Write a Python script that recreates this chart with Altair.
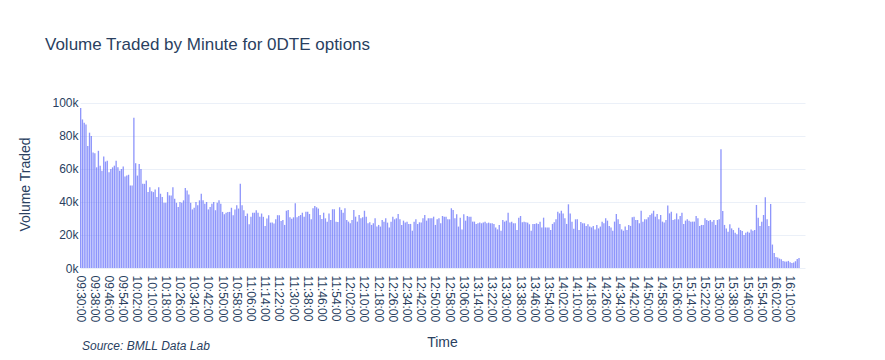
import altair as alt
import pandas as pd

# Volume traded per minute, in thousands
vol_0930_1019 = [
    97, 90, 88, 87, 74, 82, 80, 70, 69.5, 61,
    71, 62, 59, 67.5, 64.5, 65, 58, 60, 61, 62,
    65, 61, 59, 60, 61.5, 55.5, 56, 56.5, 50, 50,
    91, 63.5, 56, 63, 60, 51, 51, 53, 46, 49,
    46.5, 46, 47.5, 43, 49, 45, 43, 39.5, 39.5, 46,
]
vol_1020_1059 = [
    44, 44, 49, 42, 39.5, 37, 40, 39.5, 41, 48.5,
    47, 44.5, 39.5, 35.5, 36.5, 40, 38, 41, 45, 41,
    39, 40, 35.5, 37, 39, 40, 35, 39.5, 41, 39,
    34, 32.5, 33.5, 34, 34, 36.5, 32, 35.5, 38, 36,
]
vol_1100_1123 = [
    51, 38, 35, 31.5, 33, 26.5, 31, 33.5, 33.5, 35, 33.5, 31,
    33, 31, 25.5, 30, 32, 27.5, 27.5, 27, 29.5, 32, 32, 28.5,
]
vol_1124_1220 = [
    29.1, 26.1, 34.7, 35.2, 30.7, 29.9, 30.7, 39.2, 30.7, 31.5,
    32.1, 33.5, 31.1, 34.1, 34.1, 32.7, 29.5, 36.2, 37.6, 36.8,
    36.0, 32.1, 29.7, 33.5, 30.1, 28.1, 33.1, 29.1, 35.6, 35.6,
    28.1, 27.9, 36.8, 35.2, 33.5, 36.2, 29.1, 28.1, 27.1, 29.1,
    35.2, 31.1, 28.1, 32.1, 30.1, 30.7, 34.7, 31.1, 27.1, 27.7,
    26.1, 27.1, 30.1, 25.1, 26.1, 25.1, 29.1,
]
vol_1221_1318 = [
    28.1, 30.1, 27.5, 24.6, 28.1, 31.1, 29.5, 30.1, 32.7, 29.5,
    26.1, 28.7, 27.5, 28.1, 26.7, 26.7, 22.6, 28.1, 29.5, 26.7,
    27.7, 27.5, 30.1, 32.1, 28.7, 30.1, 30.1, 30.1, 31.1, 26.1,
    29.5, 30.1, 27.1, 31.5, 31.1, 31.1, 29.5, 29.5, 36.2, 35.2,
    30.1, 32.5, 25.1, 30.5, 23.4, 32.5, 28.7, 31.5, 31.1, 31.1,
    28.1, 28.1, 26.7, 27.1, 27.5, 27.1, 27.5, 28.1,
]
vol_1319_1416 = [
    27.1, 27.5, 27.1, 27.1, 26.7, 24.6, 23.4, 26.1, 22.6, 29.1,
    28.1, 28.7, 33.5, 27.5, 28.1, 27.1, 27.1, 23.0, 30.5, 31.5,
    27.7, 28.1, 27.7, 27.5, 26.5, 22.6, 26.7, 26.7, 27.1, 26.7,
    28.1, 24.6, 30.5, 24.6, 24.6, 24.6, 23.0, 26.7, 27.7, 29.5,
    34.1, 33.1, 34.7, 33.1, 30.1, 26.7, 38.6, 33.1, 28.1, 23.8,
    29.5, 29.5, 23.0, 27.9, 27.1, 27.1, 25.5, 26.5,
]
vol_1417_1514 = [
    25.1, 24.6, 25.5, 23.4, 26.1, 24.0, 25.1, 28.1, 27.1, 30.1,
    28.7, 25.5, 24.6, 22.6, 28.1, 32.7, 29.5, 26.7, 23.4, 22.6,
    25.1, 23.0, 26.1, 25.5, 30.7, 31.1, 29.1, 29.1, 27.1, 34.7,
    28.1, 29.5, 29.5, 30.7, 32.1, 33.1, 34.7, 31.1, 32.7, 29.5,
    32.1, 28.1, 27.5, 29.1, 37.8, 33.1, 34.1, 29.1, 29.5, 33.1,
    29.5, 31.5, 33.5, 26.7, 28.7, 29.5, 28.7, 28.1,
]
vol_1515_1530 = [
    28.1, 28.1, 31.5, 30.1, 25.5, 26.1, 26.1, 30.1,
    29.1, 28.5, 29.1, 28.1, 29.1, 26.1, 29.1, 29.5,
]
vol_1531_1559 = [
    72, 34.5, 26.1, 24.0, 22.0, 26.5, 24.0, 23.0, 21.4, 20.4,
    24.4, 23.0, 22.4, 20.0, 21.4, 22.0, 21.4, 23.4, 22.6, 23.0,
    38.2, 30.5, 25.5, 28.1, 32.1, 42.8, 29.5, 25.5, 38.8,
]
vol_1600_1615 = [
    14.2, 9.1, 6.7, 6.3, 5.7, 5.3, 4.3, 3.9,
    3.9, 4.3, 3.5, 3.0, 3.3, 4.1, 5.5, 6.1,
]

volume_k = (vol_0930_1019 + vol_1020_1059 + vol_1100_1123 + vol_1124_1220
            + vol_1221_1318 + vol_1319_1416 + vol_1417_1514 + vol_1515_1530
            + vol_1531_1559 + vol_1600_1615)

# category axis: one slot per minute from 09:30:00
all_minutes = [f"{(570 + i) // 60:02d}:{(570 + i) % 60:02d}:00" for i in range(409)]
tick_labels = all_minutes[0:401:8]
y_ticks = [0, 20000, 40000, 60000, 80000, 100000]

df = pd.DataFrame({
    "Time": all_minutes[:len(volume_k)],
    "Volume": [v * 1000 for v in volume_k],
})

FONT = "Liberation Sans"
TEXT = "#2a3f5f"
GRID = "#ebf0f8"

bars = alt.Chart(df).mark_bar(color="#636efa", opacity=0.72).encode(
    x=alt.X(
        "Time:O",
        sort=None,
        scale=alt.Scale(domain=all_minutes, paddingInner=0.25, paddingOuter=0),
        axis=alt.Axis(
            values=tick_labels, labelAngle=90, labelOverlap=False,
            labelFont=FONT, labelFontSize=12, labelColor=TEXT, labelPadding=7,
            ticks=False, tickSize=0, domain=False, grid=False,
            title="Time", titleFont=FONT, titleFontSize=14, titleFontWeight="normal",
            titleColor=TEXT, titleX=362, titleY=74, titleBaseline="middle",
            titleAlign="center",
        ),
    ),
    y=alt.Y(
        "Volume:Q",
        scale=alt.Scale(domain=[0, 101800], nice=False),
        axis=alt.Axis(
            values=y_ticks, format="~s",
            labelFont=FONT, labelFontSize=12, labelColor=TEXT, labelPadding=2,
            ticks=False, tickSize=0, domain=False,
            grid=True, gridColor=GRID, gridWidth=1,
            title="Volume Traded", titleFont=FONT, titleFontSize=14,
            titleFontWeight="normal", titleColor=TEXT, titleAngle=-90,
            titleX=-55, titleY=84, titleBaseline="middle", titleAlign="center",
        ),
    ),
)

source = alt.Chart(alt.Data(values=[{"label": "Source: BMLL Data Lab"}])).mark_text(
    align="left", baseline="middle", font=FONT, fontSize=12,
    fontStyle="italic", color=TEXT,
).encode(
    x=alt.value(2),
    y=alt.value(246),
    text="label:N",
)

chart = alt.layer(bars, source).properties(
    width=725,
    height=168,
    title=alt.TitleParams(
        text="Volume Traded by Minute for 0DTE options",
        anchor="start", frame="group", dx=-35, offset=43,
        font=FONT, fontSize=17, fontWeight="normal", color=TEXT,
    ),
    padding={"left": 72, "top": 92, "right": 60, "bottom": 84},
    autosize="none",
).configure(
    background="white",
    view=alt.ViewConfig(stroke=None, strokeWidth=0),
)

chart.save("out.html", embed_options={"renderer": "svg", "actions": False})
